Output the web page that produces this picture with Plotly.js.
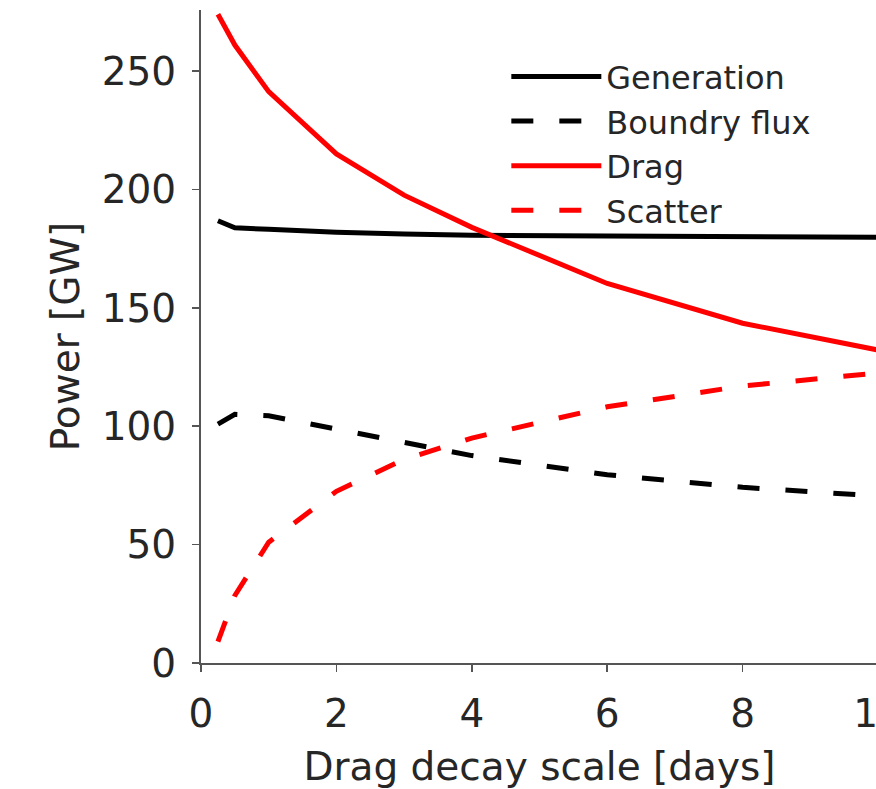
<!DOCTYPE html>
<html>
<head>
<meta charset="utf-8">
<script src="https://cdn.plot.ly/plotly-3.0.1.min.js"></script>
<style>
html, body { margin: 0; padding: 0; overflow: hidden; background: #fff; width: 876px; height: 789px; }
#chart { width: 960px; height: 789px; }
</style>
</head>
<body>
<div id="chart"></div>
<script>
// Drag decay scale [days]
const decayDays = [0.25, 0.5, 1, 2, 3, 4, 6, 8, 10];
// Power [GW]
const generation   = [186.8, 183.8, 183.2, 181.9, 181.2, 180.7, 180.3, 180.0, 179.8];
const boundryFlux  = [100.9, 105.0, 104.4, 98.7, 93.0, 87.6, 79.5, 74.2, 70.5];
const drag         = [274.0, 261.0, 241.3, 215.0, 197.6, 184.0, 160.3, 143.5, 132.2];
const scatter      = [9.0, 28.5, 51.0, 72.5, 86.0, 95.0, 108.2, 117.0, 122.5];

const seriesNames = ['Generation', 'Boundry flux', 'Drag', 'Scatter'];
const xTicks = [0, 2, 4, 6, 8, 10];
const yTicks = [0, 50, 100, 150, 200, 250];

const W = 5;
const DASH = '22px,26px';

const traces = [
  {x: decayDays, y: generation, name: seriesNames[0], mode: 'lines',
   line: {color: '#000000', width: W}},
  {x: decayDays, y: boundryFlux, name: seriesNames[1], mode: 'lines',
   line: {color: '#000000', width: W, dash: DASH}},
  {x: decayDays, y: drag, name: seriesNames[2], mode: 'lines',
   line: {color: '#ff0000', width: W}},
  {x: decayDays, y: scatter, name: seriesNames[3], mode: 'lines',
   line: {color: '#ff0000', width: W, dash: DASH}}
];

const tickFont = {family: 'DejaVu Sans', size: 39, color: '#262626'};

const layout = {
  width: 960,
  height: 789,
  margin: {l: 200.6, r: 82.4, t: 10, b: 126},
  paper_bgcolor: '#ffffff',
  plot_bgcolor: '#ffffff',
  showlegend: true,
  legend: {
    x: 0.451, xanchor: 'left',
    y: 0.94, yanchor: 'top',
    bgcolor: 'rgba(0,0,0,0)',
    borderwidth: 0,
    itemwidth: 90,
    font: {family: 'DejaVu Sans', size: 32, color: '#262626'},
    tracegroupgap: 0
  },
  xaxis: {
    range: [0, 10],
    tickvals: xTicks,
    ticktext: xTicks.map(String),
    ticks: 'outside', ticklen: 7, tickwidth: 1.5, tickcolor: '#555555',
    showline: true, linecolor: '#555555', linewidth: 2,
    showgrid: false, zeroline: false,
    tickfont: tickFont,
    ticklabelstandoff: 8,
    title: {text: 'Drag decay scale [days]', font: tickFont, standoff: 20}
  },
  yaxis: {
    range: [0, 275.8],
    tickvals: yTicks,
    ticktext: yTicks.map(String),
    ticks: 'outside', ticklen: 7, tickwidth: 1.5, tickcolor: '#555555',
    showline: true, linecolor: '#555555', linewidth: 2,
    showgrid: false, zeroline: false,
    tickfont: tickFont,
    ticklabelstandoff: 8,
    title: {text: 'Power [GW]', font: tickFont, standoff: 10}
  }
};

Plotly.newPlot('chart', traces, layout, {displayModeBar: false, staticPlot: true});
</script>
</body>
</html>
